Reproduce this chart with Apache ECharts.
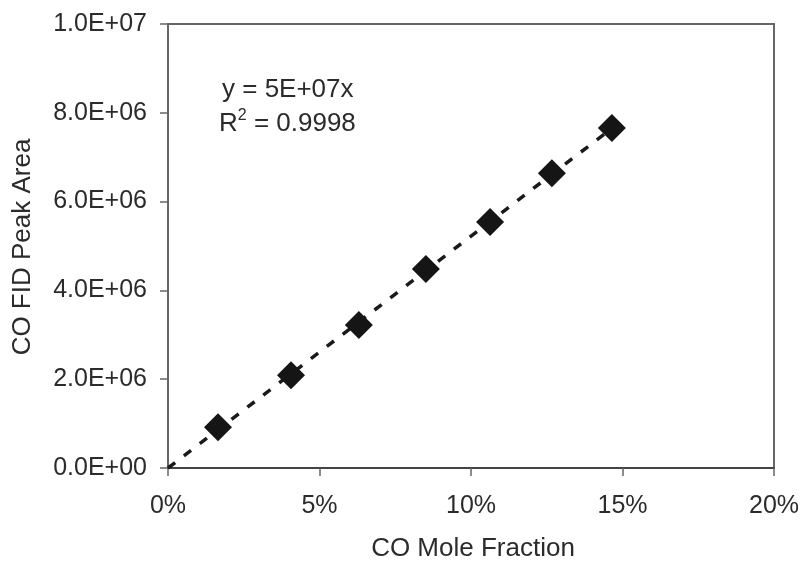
<!DOCTYPE html>
<html>
<head>
<meta charset="utf-8">
<script src="https://cdn.jsdelivr.net/npm/echarts@6/dist/echarts.min.js"></script>
<style>
  html, body { margin: 0; padding: 0; background: #fff; }
  #main { width: 806px; height: 562px; }
</style>
</head>
<body>
<div id="main"></div>
<script>
// CO mole fraction (fraction) vs FID peak area
const moleFraction = [0.0165, 0.0406, 0.0630, 0.0851, 0.1063, 0.1267, 0.1465]
const peakArea = [0.92e6, 2.09e6, 3.22e6, 4.48e6, 5.54e6, 6.64e6, 7.66e6]

// linear trendline through origin, end points
const trendX = [0, 0.1465]
const trendY = [0, 7.65e6]

const xTicks = [0, 0.05, 0.1, 0.15, 0.2]
const yTicks = [0, 2e6, 4e6, 6e6, 8e6, 1e7]

const font = 'Liberation Sans'
const textColor = '#2b2b2b'

// 1.0E+07 style labels
const sciLabel = function (v) {
  if (v === 0) return '0.0E+00'
  const exp = Math.floor(Math.log10(v))
  const mant = (v / Math.pow(10, exp)).toFixed(1)
  return mant + 'E+' + String(exp).padStart(2, '0')
}

const myChart = echarts.init(document.getElementById('main'))
myChart.setOption({
  backgroundColor: '#fff',
  animation: false,
  grid: {
    left: 168, right: 32, top: 24, bottom: 94,
    show: true,
    borderColor: '#666',
    borderWidth: 2
  },
  xAxis: {
    type: 'value',
    min: xTicks[0],
    max: xTicks[xTicks.length - 1],
    interval: 0.05,
    axisLine: { lineStyle: { color: '#444', width: 2 } },
    axisTick: { show: true, length: 8, lineStyle: { color: '#666', width: 1.5 } },
    splitLine: { show: false },
    axisLabel: {
      margin: 26,
      fontFamily: font,
      fontSize: 25,
      color: textColor,
      formatter: v => Math.round(v * 100) + '%'
    }
  },
  yAxis: {
    type: 'value',
    min: yTicks[0],
    max: yTicks[yTicks.length - 1],
    interval: 2e6,
    axisLine: { show: true, lineStyle: { color: '#666', width: 2 } },
    axisTick: { show: true, length: 8, lineStyle: { color: '#666', width: 1.5 } },
    splitLine: { show: false },
    axisLabel: {
      margin: 21,
      fontFamily: font,
      fontSize: 25,
      color: textColor,
      formatter: sciLabel
    }
  },
  graphic: [
    {
      type: 'text',
      x: 473, y: 549,
      style: {
        text: 'CO Mole Fraction',
        fontFamily: font, fontSize: 26, fill: textColor,
        textAlign: 'center', textVerticalAlign: 'middle'
      }
    },
    {
      type: 'text',
      x: 23, y: 247,
      rotation: Math.PI / 2,
      style: {
        text: 'CO FID Peak Area',
        fontFamily: font, fontSize: 26, fill: textColor,
        textAlign: 'center', textVerticalAlign: 'middle'
      }
    },
    {
      type: 'text',
      x: 222, y: 90,
      style: {
        text: 'y = 5E+07x',
        fontFamily: font, fontSize: 26, fill: textColor,
        textVerticalAlign: 'middle'
      }
    },
    {
      type: 'text',
      x: 219, y: 124,
      style: {
        text: 'R{sup|2} = 0.9998',
        fontFamily: font, fontSize: 26, fill: textColor,
        textVerticalAlign: 'middle',
        rich: {
          sup: { fontFamily: font, fontSize: 16, fill: textColor, verticalAlign: 'top', padding: [0, 0, 16, 0] }
        }
      }
    }
  ],
  series: [
    {
      name: 'trend',
      type: 'line',
      data: trendX.map((x, i) => [x, trendY[i]]),
      symbol: 'none',
      lineStyle: { color: '#1a1a1a', width: 3.5, type: [9, 11] },
      z: 1
    },
    {
      name: 'CO',
      type: 'scatter',
      data: moleFraction.map((x, i) => [x, peakArea[i]]),
      symbol: 'diamond',
      symbolSize: 28,
      itemStyle: { color: '#151515', opacity: 1 },
      z: 2
    }
  ]
})
</script>
</body>
</html>
